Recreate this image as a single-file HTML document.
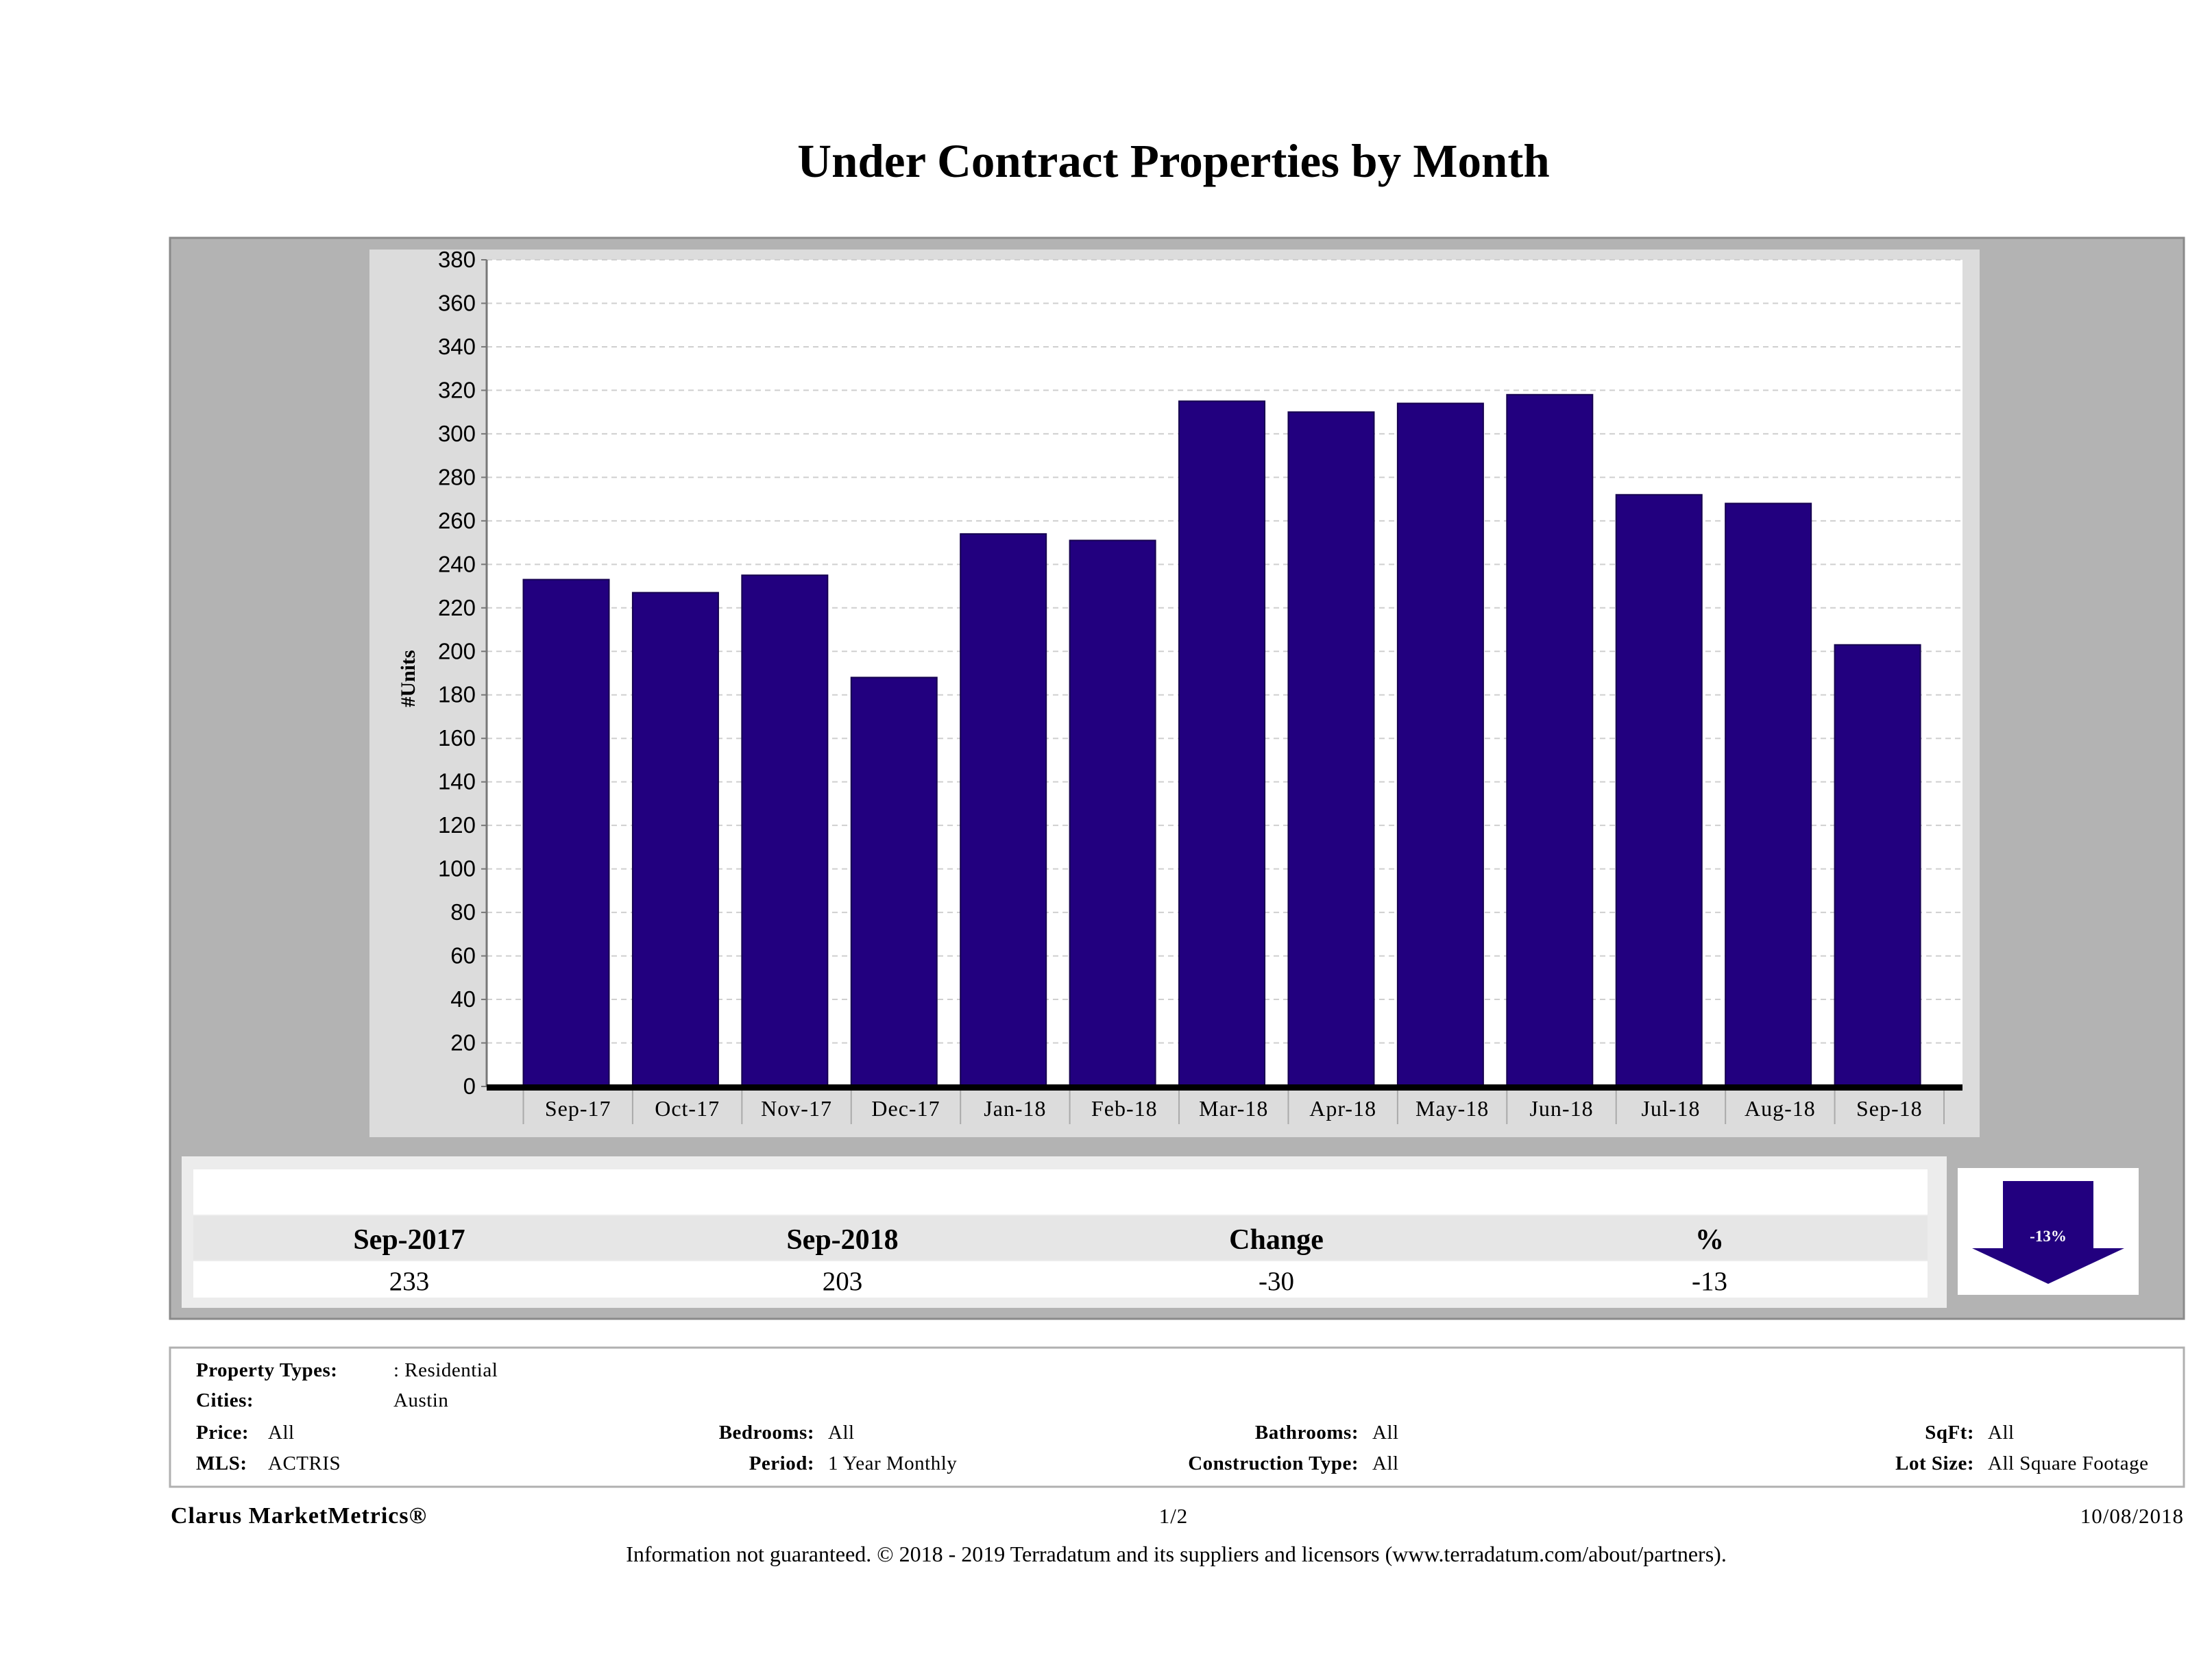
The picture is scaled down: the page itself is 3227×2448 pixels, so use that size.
<!DOCTYPE html>
<html><head><meta charset="utf-8"><style>
html,body{margin:0;padding:0;background:#fff;}
svg{display:block;font-family:"Liberation Serif",serif;}
</style></head><body>
<svg id="chart" width="3227" height="2448" viewBox="0 0 3227 2448">
<text x="1712" y="258" text-anchor="middle" font-size="69" font-weight="bold">Under Contract Properties by Month</text>
<rect x="248" y="347" width="2938" height="1577" fill="#b3b3b3" stroke="#8a8a8a" stroke-width="3"/>
<rect x="539" y="364" width="2349" height="1295" fill="#dcdcdc"/>
<rect x="710" y="379" width="2153" height="1206" fill="#fff"/>
<g id="grid"></g>
<g id="bars"></g>
<g id="yaxis"></g>
<g id="xaxis"></g>
<text transform="translate(605,990) rotate(-90)" text-anchor="middle" font-size="30" font-weight="bold">#Units</text>

<rect x="265" y="1687" width="2575" height="221" fill="#ececec"/>
<rect x="282" y="1706" width="2530" height="66" fill="#fff"/>
<rect x="282" y="1774" width="2530" height="64" fill="#e6e6e6"/>
<rect x="282" y="1840" width="2530" height="53" fill="#fff"/>
<g font-size="42" font-weight="bold" text-anchor="middle">
<text x="597" y="1822">Sep-2017</text>
<text x="1229" y="1822">Sep-2018</text>
<text x="1862" y="1822">Change</text>
<text x="2494" y="1822">%</text>
</g>
<g font-size="39" text-anchor="middle">
<text x="597" y="1882">233</text>
<text x="1229" y="1882">203</text>
<text x="1862" y="1882">-30</text>
<text x="2494" y="1882">-13</text>
</g>
<rect x="2856" y="1704" width="264" height="185" fill="#fff"/>
<polygon points="2922,1723 3054,1723 3054,1821 3099,1821 2988,1873 2877,1821 2922,1821" fill="#22007f"/>
<text x="2988" y="1811" text-anchor="middle" font-size="23" fill="#fff" font-weight="bold">-13%</text>

<rect x="248" y="1966" width="2938" height="203" fill="#fff" stroke="#b0b0b0" stroke-width="3"/>
<g font-size="29" letter-spacing="0.5">
<text x="286" y="2008" font-weight="bold">Property Types:</text><text x="574" y="2008">: Residential</text>
<text x="286" y="2052" font-weight="bold">Cities:</text><text x="574" y="2052">Austin</text>
<text x="286" y="2099" font-weight="bold">Price:</text><text x="391" y="2099">All</text>
<text x="286" y="2144" font-weight="bold">MLS:</text><text x="391" y="2144">ACTRIS</text>
<text x="1188" y="2099" font-weight="bold" text-anchor="end">Bedrooms:</text><text x="1208" y="2099">All</text>
<text x="1188" y="2144" font-weight="bold" text-anchor="end">Period:</text><text x="1208" y="2144">1 Year Monthly</text>
<text x="1982" y="2099" font-weight="bold" text-anchor="end">Bathrooms:</text><text x="2002" y="2099">All</text>
<text x="1982" y="2144" font-weight="bold" text-anchor="end">Construction Type:</text><text x="2002" y="2144">All</text>
<text x="2880" y="2099" font-weight="bold" text-anchor="end">SqFt:</text><text x="2900" y="2099">All</text>
<text x="2880" y="2144" font-weight="bold" text-anchor="end">Lot Size:</text><text x="2900" y="2144">All Square Footage</text>
</g>
<text x="249" y="2222" font-size="34" letter-spacing="1" font-weight="bold">Clarus MarketMetrics®</text>
<text x="1712" y="2222" font-size="31" letter-spacing="1" text-anchor="middle">1/2</text>
<text x="3186" y="2222" font-size="31" letter-spacing="1" text-anchor="end">10/08/2018</text>
<text x="1716" y="2278" font-size="32" text-anchor="middle">Information not guaranteed. © 2018 - 2019 Terradatum and its suppliers and licensors (www.terradatum.com/about/partners).</text>
</svg>
<script>
const categories = ["Sep-17","Oct-17","Nov-17","Dec-17","Jan-18","Feb-18","Mar-18","Apr-18","May-18","Jun-18","Jul-18","Aug-18","Sep-18"];
const units = [233,227,235,188,254,251,315,310,314,318,272,268,203];
const yTicks = [0,20,40,60,80,100,120,140,160,180,200,220,240,260,280,300,320,340,360,380];
const NS="http://www.w3.org/2000/svg";
const plotTop=379, plotBottom=1585, plotLeft=710, plotRight=2863, yMax=380;
const bandStart=763.5, bandStep=(2836-763.5)/13, barW=125;
function y(v){return plotBottom-(plotBottom-plotTop)*v/yMax;}
function x(i){return bandStart+i*bandStep;}
function mk(tag,attrs,parent){const e=document.createElementNS(NS,tag);for(const k in attrs)e.setAttribute(k,attrs[k]);parent.appendChild(e);return e;}
const grid=document.getElementById('grid'),bars=document.getElementById('bars'),ya=document.getElementById('yaxis'),xa=document.getElementById('xaxis');
yTicks.forEach(t=>{
  if(t>0){const g=mk('line',{x1:plotLeft,x2:plotRight,y1:y(t),y2:y(t),stroke:'#cfcfcf','stroke-width':2,'stroke-dasharray':'8,6'},grid);
  
  }
  const tk=mk('line',{x1:plotLeft-8,x2:plotLeft,y1:y(t),y2:y(t),stroke:'#777','stroke-width':2},ya);
  
  
  const lb=mk('text',{x:plotLeft-16,y:y(t)+11,'text-anchor':'end','font-size':33,'font-family':'"Liberation Sans",sans-serif'},ya);
  lb.textContent=t;
  
  
});
const ax=mk('line',{x1:plotLeft,x2:plotLeft,y1:plotTop,y2:plotBottom,stroke:'#777','stroke-width':3},ya);


categories.forEach((c,i)=>{
  const r=mk('rect',{x:x(i),y:y(units[i]),width:barW,height:plotBottom-y(units[i]),fill:'#22007f',stroke:'#15004f','stroke-width':2},bars);
  
  
  const l=mk('text',{x:x(i)+bandStep/2,y:1628,'text-anchor':'middle','font-size':32,'letter-spacing':1},xa);
  l.textContent=c;
  
  
});
for(let i=0;i<=categories.length;i++){
  const d=mk('line',{x1:x(i),x2:x(i),y1:plotBottom,y2:1640,stroke:'#aaa','stroke-width':2},xa);
  
  
}
const base=mk('rect',{x:plotLeft,y:plotBottom-3,width:plotRight-plotLeft,height:9,fill:'#000'},xa);


</script>
</body></html>
